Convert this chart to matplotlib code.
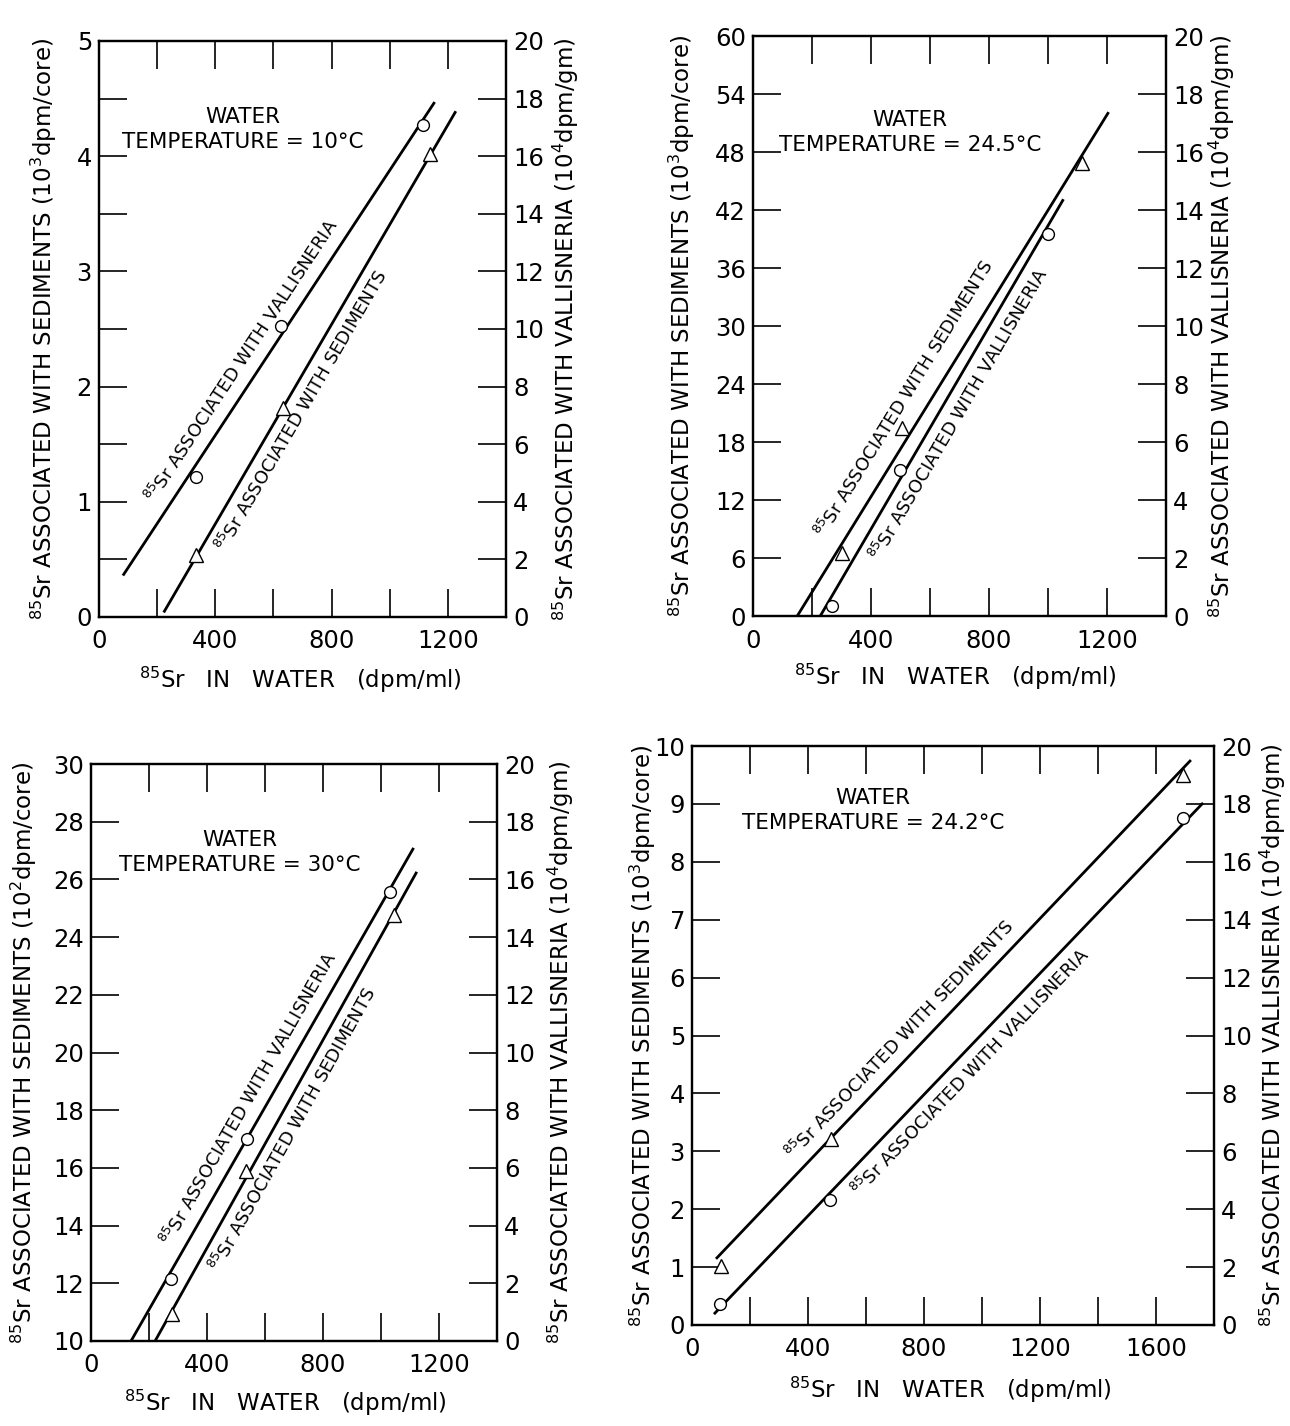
import numpy as np
import matplotlib
matplotlib.use("Agg")
import matplotlib.pyplot as plt
from matplotlib.ticker import MultipleLocator, NullFormatter

plt.rcParams["font.family"] = ["DejaVu Sans"]
plt.rcParams["mathtext.default"] = "regular"

# ---------------------------------------------------------------- data
# 85Sr in water (dpm/ml) vs 85Sr in sediments (left axis) and Vallisneria (right axis, 10^4 dpm/gm)

# Water temperature = 10 C  (sediments in 10^3 dpm/core)
sed_x_10 = [334, 632, 1140]
sed_y_10 = [0.54, 1.81, 4.02]
val_x_10 = [332, 626, 1113]
val_y_10 = [4.86, 10.10, 17.10]
sed_fit_x_10 = [225, 1225]
sed_fit_y_10 = [0.05, 4.38]
val_fit_x_10 = [85, 1152]
val_fit_y_10 = [1.48, 17.84]

# Water temperature = 24.5 C  (sediments in 10^3 dpm/core)
sed_x_245 = [300, 505, 1115]
sed_y_245 = [6.5, 19.5, 46.9]
val_x_245 = [268, 497, 1000]
val_y_245 = [0.33, 5.03, 13.17]
sed_fit_x_245 = [150, 1203]
sed_fit_y_245 = [0.0, 52.0]
val_fit_x_245 = [228, 1050]
val_fit_y_245 = [0.0, 14.33]

# Water temperature = 30 C  (sediments in 10^2 dpm/core)
sed_x_30 = [279, 534, 1045]
sed_y_30 = [10.94, 15.9, 24.77]
val_x_30 = [276, 538, 1031]
val_y_30 = [2.15, 7.0, 15.56]
sed_fit_x_30 = [221, 1121]
sed_fit_y_30 = [10.0, 26.22]
val_fit_x_30 = [138, 1110]
val_fit_y_30 = [0.0, 17.05]

# Water temperature = 24.2 C  (sediments in 10^3 dpm/core)
sed_x_242 = [100, 479, 1693]
sed_y_242 = [1.02, 3.21, 9.5]
val_x_242 = [97, 476, 1693]
val_y_242 = [0.73, 4.32, 17.5]
sed_fit_x_242 = [86, 1717]
sed_fit_y_242 = [1.16, 9.74]
val_fit_x_242 = [79, 1759]
val_fit_y_242 = [0.41, 18.0]

# ---------------------------------------------------------------- figure
W, H = 1290, 1426
fig = plt.figure(figsize=(W / 100, H / 100), dpi=100)

TICK = 17.5
LABEL = 16.5
LINELAB = 13
TEMP = 15.5
SR = "$^{85}$Sr "


def px_axes(l, r, t, b):
    return fig.add_axes([l / W, 1 - b / H, (r - l) / W, (b - t) / H])


def line_label(ax, xs, ys, xc, text, side, d=13.0):
    """Write text parallel to a fitted line, offset to one side of it."""
    xs = np.asarray(xs, float)
    ys = np.asarray(ys, float)
    yc = np.interp(xc, xs, ys)
    p0 = ax.transData.transform((xs[0], ys[0]))
    p1 = ax.transData.transform((xs[1], ys[1]))
    theta = np.arctan2(p1[1] - p0[1], p1[0] - p0[0])
    sgn = 1 if side == "above" else -1
    off = (-np.sin(theta) * d * sgn, np.cos(theta) * d * sgn)
    ax.annotate(text, xy=(xc, yc), xytext=off, textcoords="offset points",
                rotation=np.degrees(theta), rotation_mode="anchor",
                ha="center", va="center", fontsize=LINELAB, zorder=5)


def panel(box, xmax, ylim, ystep_major, ystep_minor,
          sed, val, sed_fit, val_fit, temp, sed_unit,
          temp_pos, ylab_x, yrlab_x, xlab_pos,
          sed_lab, val_lab):
    ax = px_axes(*box)
    ax2 = ax.twinx()
    ax.set_xlim(0, xmax)
    ax.set_ylim(*ylim)
    ax2.set_ylim(0, 20)

    for a in (ax, ax2):
        for s in a.spines.values():
            s.set_linewidth(1.6)

    ax.xaxis.set_major_locator(MultipleLocator(400))
    ax.xaxis.set_minor_locator(MultipleLocator(200))
    ax.yaxis.set_major_locator(MultipleLocator(ystep_major))
    if ystep_minor:
        ax.yaxis.set_minor_locator(MultipleLocator(ystep_minor))
    ax.yaxis.set_minor_formatter(NullFormatter())
    ax2.yaxis.set_major_locator(MultipleLocator(2))

    ax.tick_params(which="both", direction="in", length=20, width=1.2,
                   top=True, bottom=True, left=True, right=False,
                   labelsize=TICK)
    ax.tick_params(axis="x", which="both", pad=9)
    ax.tick_params(axis="y", which="both", pad=5)
    ax2.tick_params(which="both", direction="in", length=20, width=1.2,
                    right=True, labelsize=TICK, pad=5)

    # fitted lines and measurements
    ax.plot(sed_fit[0], sed_fit[1], color="black", lw=2.0, zorder=3)
    ax2.plot(val_fit[0], val_fit[1], color="black", lw=2.0, zorder=3)
    ax.plot(sed[0], sed[1], ls="none", marker="^", ms=10, mfc="white",
            mec="black", mew=1.0, zorder=4, clip_on=False)
    ax2.plot(val[0], val[1], ls="none", marker="o", ms=8.5, mfc="white",
             mec="black", mew=1.0, zorder=4, clip_on=False)

    ax.set_ylabel(SR + "ASSOCIATED WITH SEDIMENTS (" + sed_unit + "dpm/core)",
                  fontsize=LABEL)
    ax.yaxis.label.set(rotation_mode="default", va="center", ha="center")
    ax.yaxis.set_label_coords(ylab_x, 0.5)
    ax2.set_ylabel(SR + "ASSOCIATED WITH VALLISNERIA (10$^4$dpm/gm)",
                   fontsize=LABEL, rotation=90)
    ax2.yaxis.label.set(rotation_mode="default", va="center", ha="center")
    ax2.yaxis.set_label_coords(yrlab_x, 0.5)
    ax.set_xlabel(SR + "  IN   WATER   (dpm/ml)", fontsize=LABEL)
    ax.xaxis.label.set(va="center")
    ax.xaxis.set_label_coords(*xlab_pos)

    ax.text(temp_pos[0], temp_pos[1], "WATER\nTEMPERATURE = " + temp,
            transform=ax.transAxes, ha="center", va="center",
            fontsize=TEMP, linespacing=1.3, multialignment="center", zorder=5)

    line_label(ax, sed_fit[0], sed_fit[1], sed_lab[0],
               SR + "ASSOCIATED WITH SEDIMENTS", sed_lab[1], sed_lab[2])
    line_label(ax2, val_fit[0], val_fit[1], val_lab[0],
               SR + "ASSOCIATED WITH VALLISNERIA", val_lab[1], val_lab[2])
    return ax, ax2


panel((99, 506, 41, 617), 1400, (0, 5), 1, 0.5,
      (sed_x_10, sed_y_10), (val_x_10, val_y_10),
      (sed_fit_x_10, sed_fit_y_10), (val_fit_x_10, val_fit_y_10),
      "10°C", "10$^3$",
      (0.354, 0.847), -0.136, 1.148, (0.494, -0.109),
      (645, "below", 13), (545, "above", 13))

panel((753, 1166, 36, 616), 1400, (0, 60), 6, None,
      (sed_x_245, sed_y_245), (val_x_245, val_y_245),
      (sed_fit_x_245, sed_fit_y_245), (val_fit_x_245, val_fit_y_245),
      "24.5°C", "10$^3$",
      (0.38, 0.834), -0.172, 1.135, (0.489, -0.105),
      (580, "above", 16), (645, "below", 13))

panel((91, 497, 764, 1341), 1400, (10, 30), 2, None,
      (sed_x_30, sed_y_30), (val_x_30, val_y_30),
      (sed_fit_x_30, sed_fit_y_30), (val_fit_x_30, val_fit_y_30),
      "30°C", "10$^2$",
      (0.367, 0.847), -0.165, 1.157, (0.478, -0.107),
      (645, "below", 13), (598, "above", 13))

panel((692, 1214, 746, 1325), 1800, (0, 10), 1, None,
      (sed_x_242, sed_y_242), (val_x_242, val_y_242),
      (sed_fit_x_242, sed_fit_y_242), (val_fit_x_242, val_fit_y_242),
      "24.2°C", "10$^3$",
      (0.347, 0.889), -0.095, 1.113, (0.494, -0.112),
      (762, "above", 13), (915, "below", 13))

fig.savefig("out.png", dpi=100, facecolor="white")
